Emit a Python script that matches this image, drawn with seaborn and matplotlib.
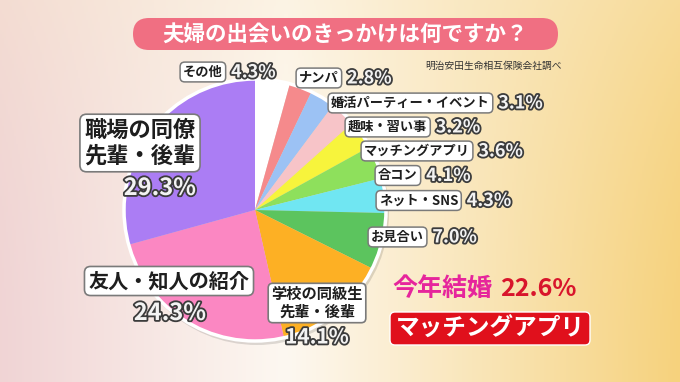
import numpy as np
import matplotlib.pyplot as plt
import matplotlib.patheffects as pe
from matplotlib.patches import FancyBboxPatch, Circle
import seaborn as sns

# データ（明治安田生命の調査）
categories = ["その他", "ナンパ", "婚活パーティー・イベント", "趣味・習い事",
              "マッチングアプリ", "合コン", "ネット・SNS", "お見合い",
              "学校の同級生\n先輩・後輩", "友人・知人の紹介", "職場の同僚\n先輩・後輩"]
shares = [4.3, 2.8, 3.1, 3.2, 3.6, 4.1, 4.3, 7.0, 14.1, 24.3, 29.3]
title = "夫婦の出会いのきっかけは何ですか？"
source = "明治安田生命相互保険会社調べ"
highlight_label = "今年結婚"
highlight_value = 22.6
highlight_name = "マッチングアプリ"

palette = ["#ffffff", "#f58a8c", "#9cc2f4", "#f7c4c8", "#f7f43c", "#8ee05c",
           "#70e6f2", "#5cc45e", "#fdb024", "#fb87c2", "#ab7df4"]

sns.set_style("white")
plt.rcParams["font.family"] = ["Noto Sans CJK JP", "DejaVu Sans"]

W, H = 680, 382
fig = plt.figure(figsize=(6.8, 3.82), dpi=100)
ax = fig.add_axes([0, 0, 1, 1])


def py(y):
    # 画像座標（上から）をデータ座標に
    return H - y


# 背景グラデーション
X, Y = np.meshgrid(np.linspace(0, 1, 340), np.linspace(0, 1, 191))
left = np.array([240, 212, 213]) / 255
mid = np.array([253, 248, 241]) / 255
right = np.array([246, 210, 125]) / 255
t1 = np.clip(X / 0.42, 0, 1)[..., None]
t2 = np.clip((X - 0.42) / 0.58, 0, 1)[..., None]
bg = np.where(X[..., None] < 0.42, left + (mid - left) * t1, mid + (right - mid) * t2)
top = np.array([250, 236, 205]) / 255
tv = (Y[..., None] ** 2) * 0.35
bg = bg * (1 - tv) + top * tv
ax.imshow(bg, extent=(0, W, 0, H), origin="lower", aspect="auto", zorder=0)

# 円グラフ
cx, cy, r = 255, py(210), 130
ax.add_patch(Circle((cx + 2, cy - 3), r + 2, fc="#00000020", ec="none", zorder=1))
ax.pie(shares, colors=palette, startangle=90, counterclock=False,
       center=(cx, cy), radius=r, wedgeprops=dict(linewidth=0, zorder=2))
ax.add_patch(Circle((cx, cy), r + 1, fc="none", ec="white", lw=2.5, zorder=3))

ax.set_xlim(0, W)
ax.set_ylim(0, H)
ax.set_aspect("equal")
ax.axis("off")

box = dict(boxstyle="round,pad=0.22,rounding_size=0.35", fc="white", ec="#7a7a7a", lw=1.1)
outline = [pe.withStroke(linewidth=2.6, foreground="#3c3c3c")]


def pct_text(x, y, v, size, ha="left"):
    ax.text(x, y, f"{v:.1f}%", fontsize=size, fontweight="bold", color="#f3f3f3",
            ha=ha, va="center", path_effects=outline, zorder=6)


# 小さいカテゴリのラベル（右側）
small = [(183, 72), (299, 78), (331, 103), (348, 127), (364, 151),
         (378, 175.5), (379, 200.5), (371, 237)]
for i, (x, y) in enumerate(small):
    t = ax.text(x, py(y), categories[i], fontsize=9.5, fontweight="bold", color="#1e1e1e",
                ha="left", va="center", bbox=box, zorder=5)
    ax.annotate(f"{shares[i]:.1f}%", xy=(1, 0.5), xycoords=t, xytext=(6, 0),
                textcoords="offset points", fontsize=13, fontweight="bold",
                color="#f3f3f3", ha="left", va="center", path_effects=outline, zorder=6)

# 大きいカテゴリ
big_box = dict(boxstyle="round,pad=0.2,rounding_size=0.3", fc="white", ec="#7a7a7a", lw=1.2)
ax.text(140, py(143), categories[10], fontsize=16, fontweight="bold", color="#1e1e1e",
        ha="center", va="center", linespacing=1.15, bbox=big_box, zorder=5)
pct_text(160, py(188), shares[10], 17, ha="center")

ax.text(169, py(281), categories[9], fontsize=14.5, fontweight="bold", color="#1e1e1e",
        ha="center", va="center", bbox=big_box, zorder=5)
pct_text(170, py(313), shares[9], 17, ha="center")

ax.text(317, py(303), categories[8], fontsize=11, fontweight="bold", color="#1e1e1e",
        ha="center", va="center", linespacing=1.1, bbox=big_box, zorder=5)
pct_text(317, py(337), shares[8], 15, ha="center")

# タイトル
ax.add_patch(FancyBboxPatch((133 + 16, py(50)), 425 - 32, 32,
                            boxstyle="round,pad=0,rounding_size=16",
                            fc="#f06f82", ec="none", zorder=4))
ax.add_patch(FancyBboxPatch((133, py(50)), 425, 32,
                            boxstyle="round,pad=0,rounding_size=16",
                            fc="#f06f82", ec="none", zorder=4))
ax.text(345, py(34), title, fontsize=15.5, fontweight="bold", color="white",
        ha="center", va="center", zorder=5)
ax.text(425, py(66), source, fontsize=7, color="#333333", ha="left", va="center", zorder=5)

# 今年結婚 マッチングアプリ
hl = ax.text(392, py(289), highlight_label, fontsize=18, fontweight="bold",
             color="#e6259c", ha="left", va="center", zorder=5)
ax.annotate(f"{highlight_value:.1f}%", xy=(1, 0.5), xycoords=hl, xytext=(6, 0),
            textcoords="offset points", fontsize=18, fontweight="bold",
            color="#d8152c", ha="left", va="center", zorder=5)
ax.add_patch(FancyBboxPatch((390, py(345)), 200, 33,
                            boxstyle="round,pad=0,rounding_size=5",
                            fc="#e0101c", ec="white", lw=1, zorder=4))
ax.text(490, py(328.5), highlight_name, fontsize=17, fontweight="bold", color="white",
        ha="center", va="center", zorder=5)

fig.savefig("out.png", dpi=100)
